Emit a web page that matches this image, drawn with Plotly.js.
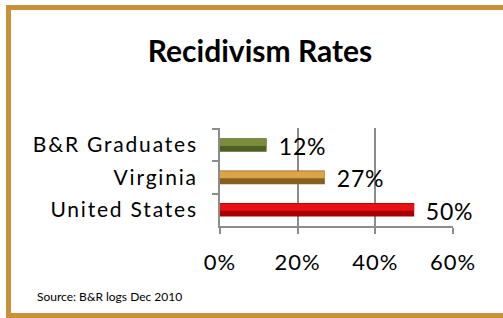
<!DOCTYPE html>
<html>
<head>
<meta charset="utf-8">
<script src="https://cdn.plot.ly/plotly-3.0.1.min.js"></script>
<style>
html,body{margin:0;padding:0;background:#fff;}
#chart{width:503px;height:318px;}
#chart .ytick text{letter-spacing:1.8px;}
#chart .xtick text{letter-spacing:1px;}
#chart .annotation-text{letter-spacing:0.8px;}
#chart .annotation[data-index="3"] .annotation-text{letter-spacing:0;}
</style>
</head>
<body>
<div id="chart"></div>
<script>
const categories = ["B&R Graduates", "Virginia", "United States"];
const rates = [12, 27, 50];
const rateLabels = ["12%", "27%", "50%"];
const tickValues = [0, 20, 40, 60];
const tickLabels = ["0%", "20%", "40%", "60%"];
const darkColors = ["#4F5F22", "#86601F", "#A80000"];
const lightColors = ["#7A8C3C", "#DDA447", "#E81212"];

const FONT = "Lato, 'Open Sans', sans-serif";

const traces = [
  {
    type: "bar", orientation: "h",
    x: rates, y: categories,
    width: 0.42, offset: -0.21,
    marker: {color: darkColors, line: {width: 0}},
    hoverinfo: "skip"
  },
  {
    type: "bar", orientation: "h",
    x: rates, y: categories,
    width: 0.22, offset: -0.19,
    marker: {color: lightColors, line: {width: 0}},
    hoverinfo: "skip"
  }
];

const annotations = rates.map((v, i) => ({
  x: v, y: categories[i], xref: "x", yref: "y",
  text: rateLabels[i], showarrow: false,
  xanchor: "left", yanchor: "middle", xshift: 11, yshift: -1,
  font: {family: FONT, size: 23, color: "#000"}
}));
annotations.push({
  xref: "paper", yref: "paper",
  x: (35 - 220) / 233, y: (226 - 296) / 98,
  xanchor: "left", yanchor: "middle",
  text: "Source: B&R logs Dec 2010", showarrow: false,
  font: {family: FONT, size: 12, color: "#000"}
});

const layout = {
  width: 503, height: 318,
  margin: {l: 220, r: 50, t: 128, b: 92},
  paper_bgcolor: "rgba(0,0,0,0)",
  plot_bgcolor: "rgba(0,0,0,0)",
  barmode: "overlay",
  showlegend: false,
  title: {
    text: "<b>Recidivism Rates</b>",
    xref: "container", yref: "container",
    x: 260 / 503, y: 1 - 51 / 318,
    xanchor: "center", yanchor: "middle",
    font: {family: FONT, size: 30, color: "#000"}
  },
  xaxis: {
    range: [0, 60],
    tickvals: tickValues, ticktext: tickLabels,
    showgrid: true, gridcolor: "#8C8C8C", gridwidth: 2,
    showline: true, linecolor: "#8C8C8C", linewidth: 2,
    ticks: "outside", ticklen: 6, tickcolor: "#8C8C8C", tickwidth: 2,
    ticklabelstandoff: 10,
    zeroline: false,
    tickfont: {family: FONT, size: 22, color: "#000"},
    fixedrange: true
  },
  yaxis: {
    type: "category",
    autorange: "reversed",
    showgrid: false,
    showline: true, linecolor: "#8C8C8C", linewidth: 2,
    ticks: "outside", tickson: "boundaries", ticklen: 6, tickcolor: "#8C8C8C", tickwidth: 2,
    ticklabelstandoff: 16,
    tickfont: {family: FONT, size: 21, color: "#000"},
    fixedrange: true
  },
  annotations: annotations,
  shapes: [{
    type: "rect", xref: "paper", yref: "paper",
    x0: (8.5 - 220) / 233, x1: (530 - 220) / 233,
    y0: (226 - 315.5) / 98, y1: (226 - 7.5) / 98,
    line: {color: "#C8913A", width: 5},
    fillcolor: "rgba(0,0,0,0)",
    layer: "below"
  }]
};

Plotly.newPlot("chart", traces, layout, {displayModeBar: false, staticPlot: true});
</script>
</body>
</html>
